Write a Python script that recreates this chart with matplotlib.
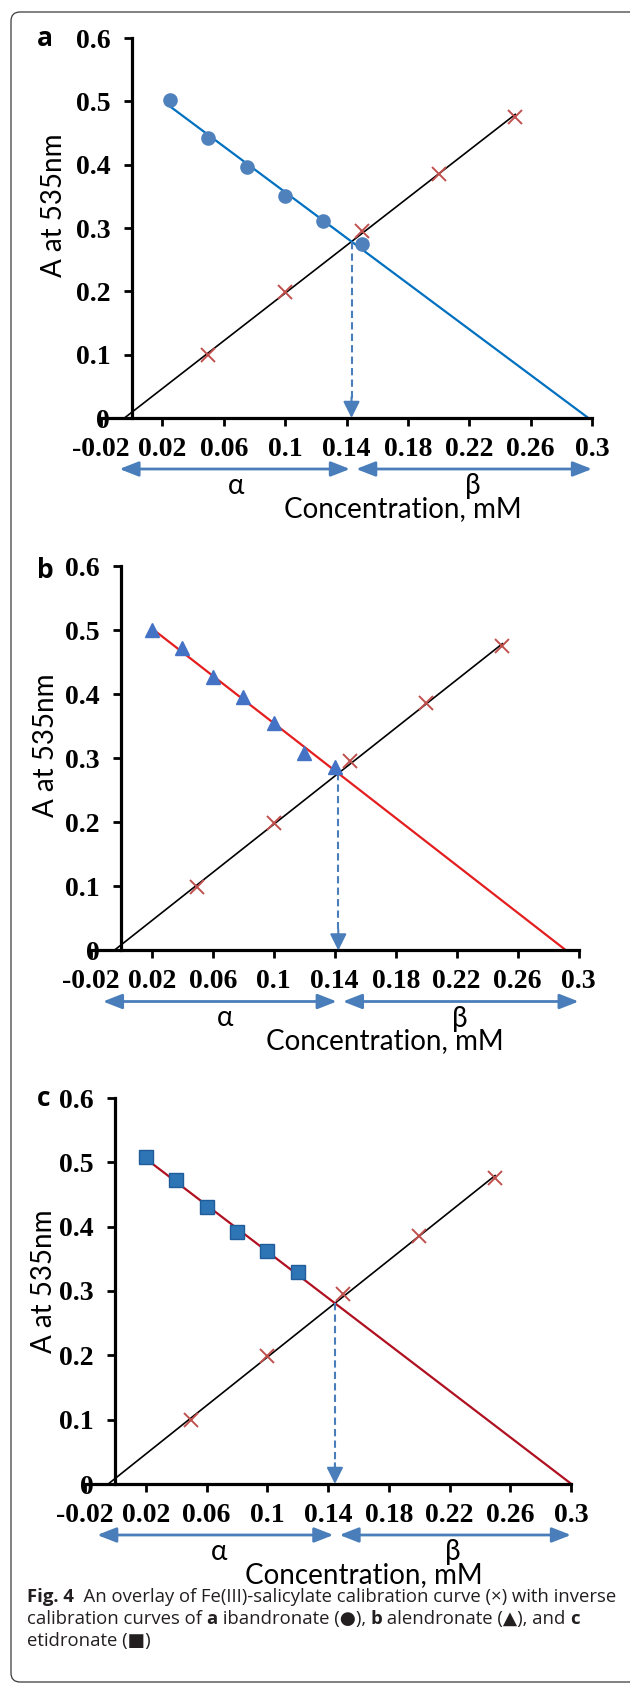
import numpy as np
import matplotlib
matplotlib.use("Agg")
import matplotlib.pyplot as plt
from matplotlib.patches import FancyBboxPatch
from matplotlib.transforms import IdentityTransform, offset_copy

# Fe(III)-salicylate calibration curve (crosses), same in every panel
calib_x = [0.05, 0.10, 0.15, 0.20, 0.25]
calib_y = [0.099, 0.199, 0.296, 0.386, 0.476]

# inverse calibration curves
iband_x = [0.025, 0.05, 0.075, 0.10, 0.125, 0.15]
iband_y = [0.502, 0.442, 0.396, 0.350, 0.311, 0.274]

alend_x = [0.02, 0.04, 0.06, 0.08, 0.10, 0.12, 0.14]
alend_y = [0.500, 0.472, 0.427, 0.396, 0.355, 0.309, 0.287]

etid_x = [0.02, 0.04, 0.06, 0.08, 0.10, 0.12]
etid_y = [0.508, 0.472, 0.430, 0.392, 0.362, 0.329]

x_ticks = [-0.02, 0.02, 0.06, 0.10, 0.14, 0.18, 0.22, 0.26, 0.30]
x_ticklabels = ['-0.02', '0.02', '0.06', '0.1', '0.14', '0.18', '0.22', '0.26', '0.3']
y_ticks = [0, 0.1, 0.2, 0.3, 0.4, 0.5, 0.6]
y_ticklabels = ['0', '0.1', '0.2', '0.3', '0.4', '0.5', '0.6']

W, H = 630, 1685
ARROW_BLUE = '#4A7EBB'
CROSS_RED = '#C0504D'
SERIF = 'Liberation Serif'
SANS = ['Lato', 'DejaVu Sans']
CAP_FONT = ['Open Sans', 'DejaVu Sans']

# panel layout in pixels: axes left/right/top/bottom, ylabel centre, xlabel centre x, letter y
panels = [
    dict(letter='a', x=iband_x, y=iband_y, marker='o', ms=9.5, mfc='#4F81BD', mec='#4F81BD',
         line='#0070C0', box=(101, 592, 38, 418), ylab=(54, 205), conc_x=403, let_y=38,
         alpha_left=-0.008),
    dict(letter='b', x=alend_x, y=alend_y, marker='^', ms=10, mfc='#4472C4', mec='#4472C4',
         line='#E41E1E', box=(90.7, 578.7, 566.5, 950.5), ylab=(46, 745), conc_x=385, let_y=570,
         alpha_left=-0.012),
    dict(letter='c', x=etid_x, y=etid_y, marker='s', ms=9.5, mfc='#2E75B6', mec='#1F5C99',
         line='#B01020', box=(85, 571, 1098, 1484), ylab=(44, 1281), conc_x=364, let_y=1098,
         alpha_left=-0.012),
]

fig = plt.figure(figsize=(W / 100, H / 100), dpi=100)

m1, b1 = np.polyfit(calib_x, calib_y, 1)

for p in panels:
    l, r, t, bt = p['box']
    ax = fig.add_axes([l / W, 1 - bt / H, (r - l) / W, (bt - t) / H])
    ax.set_xlim(-0.02, 0.3)
    ax.set_ylim(0, 0.6)
    ax.patch.set_alpha(0)

    # calibration line and points
    x0 = -b1 / m1
    xs = np.array([x0, calib_x[-1]])
    ax.plot(xs, m1 * xs + b1, color='black', lw=1.2, zorder=2, clip_on=False)
    ax.plot(calib_x, calib_y, 'x', color=CROSS_RED, ms=10, mew=1.4, zorder=4)

    # inverse calibration line and points
    m2, b2 = np.polyfit(p['x'], p['y'], 1)
    xs2 = np.array([p['x'][0], -b2 / m2])
    ax.plot(xs2, m2 * xs2 + b2, color=p['line'], lw=1.6, zorder=2, clip_on=False)
    ax.plot(p['x'], p['y'], p['marker'], ms=p['ms'], mfc=p['mfc'], mec=p['mec'], mew=1,
            zorder=3, clip_on=False)

    # intersection and dashed drop arrow
    xi = (b2 - b1) / (m1 - m2)
    yi = m1 * xi + b1
    ax.plot([xi, xi], [yi, 0.02], color=ARROW_BLUE, lw=1.5, dashes=(3.5, 2), zorder=2)
    ax.annotate('', xy=(xi, 0), xytext=(0, 15), textcoords='offset points',
                arrowprops=dict(arrowstyle='-|>,head_length=1.0,head_width=0.5',
                                color=ARROW_BLUE, lw=1.5, shrinkA=0, shrinkB=0,
                                mutation_scale=10))

    # axes styling
    for s in ['top', 'right']:
        ax.spines[s].set_visible(False)
    ax.spines['left'].set_position(('data', 0))
    ax.spines['left'].set_linewidth(2.3)
    ax.spines['bottom'].set_linewidth(2.3)
    ax.set_xticks(x_ticks)
    ax.set_xticklabels(x_ticklabels, fontfamily=SERIF, fontweight='bold', fontsize=20)
    ax.set_yticks(y_ticks)
    ax.set_yticklabels(y_ticklabels, fontfamily=SERIF, fontweight='bold', fontsize=20)
    ax.tick_params(direction='out', length=5.5, width=2.0)
    ax.tick_params(axis='x', pad=8)
    ax.tick_params(axis='y', pad=10)

    # alpha / beta range arrows below the axis
    tr_arrow = offset_copy(ax.get_xaxis_transform(), fig=fig, y=-51, units='dots')
    tr_greek = offset_copy(ax.get_xaxis_transform(), fig=fig, y=-68, units='dots')
    aprops = dict(arrowstyle='<|-|>,head_length=1.15,head_width=0.45', color=ARROW_BLUE,
                  lw=2.0, shrinkA=0, shrinkB=0, mutation_scale=10)
    ax.annotate('', xy=(xi - 0.001, 0), xytext=(p['alpha_left'], 0),
                xycoords=tr_arrow, textcoords=tr_arrow, arrowprops=aprops, annotation_clip=False)
    ax.annotate('', xy=(0.3, 0), xytext=(xi + 0.003, 0),
                xycoords=tr_arrow, textcoords=tr_arrow, arrowprops=aprops, annotation_clip=False)
    ax.text(0.068, 0, 'α', transform=tr_greek, ha='center', va='center',
            family=SANS, fontsize=20)
    ax.text(0.222, 0, 'β', transform=tr_greek, ha='center', va='center',
            family=SANS, fontsize=20)

    # labels
    fig.text(p['conc_x'] / W, 1 - (bt + 99) / H, 'Concentration, mM', ha='center',
             va='baseline', family=SANS, fontsize=20)
    fig.text(p['ylab'][0] / W, 1 - p['ylab'][1] / H, 'A at 535nm', rotation=90,
             ha='center', va='center', family=SANS, fontsize=20)
    fig.text(37 / W, 1 - p['let_y'] / H, p['letter'], ha='left', va='center',
             family=['Open Sans', 'DejaVu Sans'], fontweight='bold', fontsize=19)

# caption, written run by run so that bold and normal can mix on a line
caption = [
    [('Fig. 4', 'bold'), ('  An overlay of Fe(III)-salicylate calibration curve (×) with inverse', 'normal')],
    [('calibration curves of ', 'normal'), ('a', 'bold'), (' ibandronate (●), ', 'normal'),
     ('b', 'bold'), (' alendronate (▲), and ', 'normal'), ('c', 'bold')],
    [('etidronate (■)', 'normal')],
]
cap_size = 13.3
renderer = fig.canvas.get_renderer()


def width_px(s, weight):
    # measure with guard letters so leading/trailing spaces count
    t1 = fig.text(0, 0, 'x' + s + 'x', family=CAP_FONT, fontweight=weight, fontsize=cap_size)
    t2 = fig.text(0, 0, 'xx', family=CAP_FONT, fontweight=weight, fontsize=cap_size)
    w = t1.get_window_extent(renderer).width - t2.get_window_extent(renderer).width
    t1.remove()
    t2.remove()
    return w


for i, runs in enumerate(caption):
    x = 27
    for txt, weight in runs:
        fig.text(x / W, 1 - (1602 + 22 * i) / H, txt, ha='left', va='baseline',
                 family=CAP_FONT, fontweight=weight, fontsize=cap_size, color='#231F20')
        x += width_px(txt, weight)

# rounded frame round the whole figure
frame = FancyBboxPatch((11, 3), 640, 1670, boxstyle='round,pad=0,rounding_size=9',
                       transform=IdentityTransform(), fill=False, ec='#3a3a3a', lw=0.9)
fig.add_artist(frame)

fig.savefig('out.png', dpi=100)
